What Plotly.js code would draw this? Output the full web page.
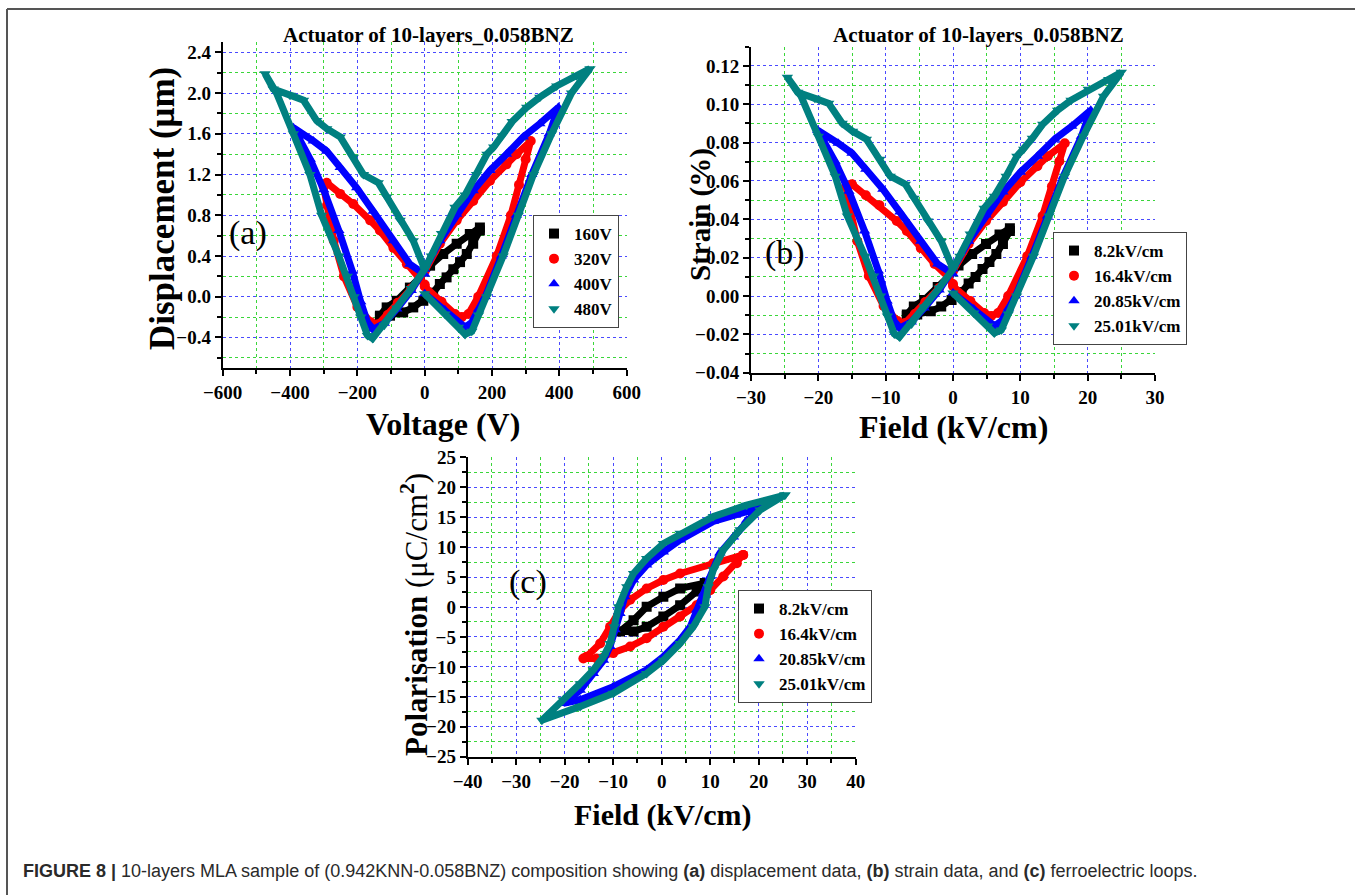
<!DOCTYPE html>
<html>
<head>
<meta charset="utf-8">
<script src="https://cdn.plot.ly/plotly-3.0.1.min.js"></script>
<style>
  html, body { margin: 0; padding: 0; background: #fff; }
  #chart { width: 1355px; height: 895px; }
</style>
</head>
<body>
<div id="chart"></div>
<script>
// ---------- Panel (a): displacement vs voltage ----------
const seriesNamesA = ["160V", "320V", "400V", "480V"];
const voltA160 = [-133,-103,-64,-34,-4,25,45,65,85,105,125,144,164,164,134,95,55,16,-14,-44,-83,-113,-133];
const dispA160 = [-0.20,-0.186,-0.154,-0.105,-0.04,0.04,0.125,0.19,0.27,0.34,0.42,0.52,0.65,0.68,0.616,0.52,0.42,0.305,0.19,0.09,-0.04,-0.105,-0.186];
const voltA320 = [0,50,90,110,130,159,214,256,280,300,315,273,243,194,144,95,45,0,-40,-80,-110,-138,-160,-200,-240,-270,-290,-300,-291,-251,-212,-162,-133,-93,-53,-14,0];
const dispA320 = [0.1,-0.05,-0.17,-0.2,-0.17,0,0.4,0.8,1.1,1.35,1.53,1.40,1.30,1.14,0.94,0.75,0.52,0.25,0.08,-0.06,-0.18,-0.27,-0.25,-0.1,0.2,0.55,0.9,1.08,1.12,1.01,0.91,0.75,0.65,0.48,0.32,0.19,0.12];
const voltA400 = [0,60,100,120,140,160,180,228,272,318,370,397,342,293,243,194,144,95,45,0,-40,-83,-120,-153,-170,-190,-215,-255,-300,-340,-390,-331,-291,-251,-202,-153,-93,-44,0];
const dispA400 = [0.03,-0.13,-0.25,-0.30,-0.25,-0.12,0.0,0.4,0.8,1.2,1.6,1.86,1.70,1.57,1.40,1.24,1.04,0.81,0.55,0.27,0.06,-0.12,-0.26,-0.32,-0.25,-0.05,0.25,0.65,1.05,1.35,1.66,1.53,1.43,1.27,1.07,0.84,0.55,0.32,0.22];
const voltA480 = [0,60,100,120,140,160,184,233,278,323,377,436,491,451,392,342,303,260,230,205,185,154,120,90,50,20,0,-40,-83,-120,-155,-170,-190,-210,-230,-255,-306,-341,-390,-440,-474,-450,-400,-360,-321,-291,-251,-212,-182,-138,-113,-73,-34,0];
const dispA480 = [0.03,-0.17,-0.3,-0.37,-0.34,-0.18,0.0,0.4,0.8,1.2,1.6,2.0,2.24,2.17,2.07,1.96,1.86,1.72,1.58,1.47,1.40,1.2,1.0,0.88,0.62,0.40,0.27,0.08,-0.11,-0.28,-0.41,-0.38,-0.2,0.0,0.2,0.4,0.8,1.2,1.6,2.0,2.19,2.04,1.98,1.93,1.73,1.65,1.57,1.37,1.2,1.12,0.98,0.75,0.55,0.27];

// ---------- Panel (b): strain vs field ----------
const seriesNamesB = ["8.2kV/cm", "16.4kV/cm", "20.85kV/cm", "25.01kV/cm"];
const fieldB1 = [-6.86,-5.31,-3.30,-1.75,-0.21,1.29,2.32,3.35,4.38,5.41,6.44,7.42,8.45,8.45,6.91,4.90,2.84,0.82,-0.72,-2.27,-4.28,-5.82,-6.86];
const strainB1 = [-0.0104,-0.0097,-0.0080,-0.0055,-0.0021,0.0021,0.0065,0.0099,0.0141,0.0177,0.0219,0.0271,0.0339,0.0354,0.0321,0.0271,0.0219,0.0159,0.0099,0.0047,-0.0021,-0.0055,-0.0097];
const fieldB2 = [0,2.58,4.64,5.67,6.70,8.20,11.03,13.3,14.7,15.8,16.6,14.07,12.53,10.0,7.42,4.90,2.32,0,-2.06,-4.12,-5.67,-7.11,-8.25,-10.31,-12.5,-14.2,-15.4,-15.9,-15.0,-12.94,-10.93,-8.35,-6.86,-4.79,-2.73,-0.72,0];
const strainB2 = [0.0052,-0.0026,-0.0089,-0.0104,-0.0089,0,0.0208,0.0417,0.0573,0.0703,0.0797,0.0729,0.0677,0.0594,0.0490,0.0391,0.0271,0.0130,0.0042,-0.0031,-0.0094,-0.0141,-0.0130,-0.0052,0.0104,0.0286,0.0469,0.0573,0.0583,0.0526,0.0474,0.0391,0.0339,0.0250,0.0167,0.0099,0.0063];
const fieldB3 = [0,3.09,5.15,6.19,7.22,8.25,9.28,11.75,14.02,16.39,19.07,20.46,17.63,15.10,12.53,10.0,7.42,4.90,2.32,0,-2.06,-4.28,-6.19,-7.89,-8.76,-9.79,-11.08,-13.14,-15.46,-17.53,-20.10,-17.06,-15.0,-12.94,-10.41,-7.89,-4.79,-2.27,0];
const strainB3 = [0.0016,-0.0068,-0.0130,-0.0156,-0.0130,-0.0063,0,0.0208,0.0417,0.0625,0.0833,0.0969,0.0885,0.0818,0.0729,0.0646,0.0542,0.0422,0.0286,0.0141,0.0031,-0.0063,-0.0135,-0.0167,-0.0130,-0.0026,0.0130,0.0339,0.0547,0.0703,0.0865,0.0797,0.0745,0.0661,0.0557,0.0438,0.0286,0.0167,0.0115];
const fieldB4 = [0,3.08,5.13,6.15,7.18,8.21,9.44,11.95,14.26,16.56,19.33,22.36,25.0,23.13,20.10,17.54,15.54,13.33,11.79,10.51,9.49,7.90,6.15,4.62,2.56,1.03,0,-2.05,-4.26,-6.15,-7.95,-8.72,-9.74,-10.77,-11.79,-13.08,-15.69,-17.49,-20.0,-22.56,-24.6,-23.08,-20.51,-18.46,-16.46,-14.92,-12.87,-10.87,-9.33,-7.08,-5.79,-3.74,-1.74,0];
const strainB4 = [0.0016,-0.0089,-0.0156,-0.0193,-0.0177,-0.0094,0,0.0208,0.0417,0.0625,0.0833,0.1042,0.1167,0.1130,0.1078,0.1021,0.0969,0.0896,0.0823,0.0766,0.0729,0.0625,0.0521,0.0458,0.0323,0.0208,0.0141,0.0042,-0.0057,-0.0146,-0.0214,-0.0198,-0.0104,0,0.0104,0.0208,0.0417,0.0625,0.0833,0.1042,0.1141,0.1063,0.1031,0.1005,0.0901,0.0859,0.0818,0.0714,0.0625,0.0583,0.0510,0.0391,0.0286,0.0141];

// ---------- Panel (c): polarisation vs field ----------
const fieldC1 = [8.9,3.8,0.34,-3.1,-5.8,-8.6,-5.8,-3.1,0.34,3.8,7.2,8.9];
const polC1 = [4.0,3.1,1.7,0.05,-2.2,-4.1,-4.1,-3.3,-1.6,0.3,2.6,4.0];
const fieldC2 = [16.8,10.65,3.8,0.34,-3.1,-6.5,-8.6,-10.65,-12.7,-15.5,-16.15,-13.4,-10.0,-6.5,-3.1,0.34,3.8,7.2,10.0,12.7,15.5,16.8];
const polC2 = [8.7,7.3,5.6,4.5,3.1,1.2,-0.5,-3.3,-6.1,-8.3,-8.6,-8.6,-7.7,-6.6,-5.2,-3.3,-1.6,0.3,2.8,5.1,7.3,8.7];
const fieldC3 = [20.3,17.5,10.65,3.8,0.34,-3.1,-5.8,-7.6,-8.6,-9.6,-10.65,-12.0,-14.1,-16.8,-20.3,-16.8,-10.0,-3.1,0.34,3.8,5.9,7.2,8.6,10.0,12.0,14.8,17.5,20.3];
const polC3 = [16.8,15.9,14.3,11.2,9.2,7.0,4.5,1.7,-1.1,-3.8,-6.6,-8.9,-11.1,-13.9,-16.1,-15.5,-13.3,-10.5,-8.3,-5.5,-3.3,-0.5,2.3,5.1,9.0,11.7,14.5,16.8];
const fieldC4 = [25.4,17.5,10.65,3.8,0.34,-3.1,-5.8,-7.2,-8.9,-9.8,-10.65,-12.0,-14.1,-16.8,-20.3,-24.7,-16.8,-10.0,-3.1,0.34,3.8,6.5,8.9,9.6,10.65,12.7,16.15,20.3,25.4];
const polC4 = [18.7,17.0,15.1,12.3,10.6,8.1,5.6,3.4,0.05,-3.3,-6.1,-8.3,-10.5,-12.8,-15.5,-18.9,-16.6,-14.4,-11.1,-8.9,-6.1,-3.3,0.05,3.4,6.2,9.5,12.9,16.2,18.7];

// ---------- styles ----------
const colors = ["#000000", "#ff0000", "#0000ff", "#008080"];
const symbols = ["square", "circle", "triangle-up", "triangle-down"];
const serif = "Liberation Serif, Times New Roman, serif";

const traces = [];
function addPanel(xs, ys, names, xa, ya, legendId) {
  for (let i = 0; i < xs.length; i++) {
    traces.push({
      type: "scatter", mode: "lines+markers", x: xs[i], y: ys[i],
      xaxis: xa, yaxis: ya, showlegend: false, hoverinfo: "skip",
      line: { color: colors[i], width: 7 },
      marker: { color: colors[i], symbol: symbols[i], size: 10 }
    });
  }
  for (let i = 0; i < names.length; i++) {
    traces.push({
      type: "scatter", mode: "markers", x: [null], y: [null], name: names[i],
      xaxis: xa, yaxis: ya, legend: legendId, showlegend: true,
      marker: { color: colors[i], symbol: symbols[i], size: 10 }
    });
  }
}
addPanel([voltA160, voltA320, voltA400, voltA480], [dispA160, dispA320, dispA400, dispA480], seriesNamesA, "x", "y", "legend");
addPanel([fieldB1, fieldB2, fieldB3, fieldB4], [strainB1, strainB2, strainB3, strainB4], seriesNamesB, "x2", "y2", "legend2");
addPanel([fieldC1, fieldC2, fieldC3, fieldC4], [polC1, polC2, polC3, polC4], seriesNamesB, "x3", "y3", "legend3");

const W = 1355, H = 895;
const px = v => v / W;
const py = v => 1 - v / H;

function axis(domain, range, dtick, minorDtick, fmt, anchor) {
  return {
    domain: domain, range: range, anchor: anchor, autorange: false,
    dtick: dtick, tick0: 0, tickformat: fmt,
    ticks: "outside", ticklen: 6, tickwidth: 2, tickcolor: "#000",
    showline: true, linewidth: 2, linecolor: "#000", mirror: false,
    zeroline: false,
    showgrid: true, gridcolor: "#4a4aff", griddash: "dot", gridwidth: 1,
    minor: { dtick: minorDtick, ticks: "outside", ticklen: 4, tickwidth: 2, tickcolor: "#000",
             showgrid: true, gridcolor: "#3ad63a", griddash: "dot", gridwidth: 1 },
    tickfont: { family: serif, size: 19, color: "#000", weight: "bold" },
    fixedrange: true
  };
}

const legendBase = {
  bgcolor: "#ffffff", bordercolor: "#444", borderwidth: 1,
  font: { family: serif, size: 17, color: "#000", weight: "bold" },
  xanchor: "left", yanchor: "top", tracegroupgap: 0, itemwidth: 30
};

function ann(text, x, y, size, opts) {
  return Object.assign({
    text: text, x: x, y: y, xref: "paper", yref: "paper", showarrow: false,
    xanchor: "center", yanchor: "middle",
    font: { family: serif, size: size, color: "#000" }
  }, opts || {});
}

const layout = {
  width: W, height: H,
  margin: { l: 0, r: 0, t: 0, b: 0 },
  paper_bgcolor: "#fff", plot_bgcolor: "rgba(0,0,0,0)",
  showlegend: true,
  xaxis: axis([px(222.7), px(626.7)], [-600, 600], 200, 100, "d", "y"),
  yaxis: axis([py(368), py(42.2)], [-0.7, 2.5], 0.4, 0.2, ".1f", "x"),
  xaxis2: axis([px(751), px(1155)], [-30, 30], 10, 5, "d", "y2"),
  yaxis2: axis([py(372.7), py(46.8)], [-0.04, 0.13], 0.02, 0.01, ".2f", "x2"),
  xaxis3: axis([px(467.7), px(855.7)], [-40, 40], 10, 5, "d", "y3"),
  yaxis3: axis([py(756.7), py(457.3)], [-25, 25], 5, 2.5, "d", "x3"),
  legend: Object.assign({}, legendBase, { x: px(533), y: py(215) }),
  legend2: Object.assign({}, legendBase, { x: px(1053), y: py(232) }),
  legend3: Object.assign({}, legendBase, { x: px(738), y: py(590) }),
  annotations: [
    ann("<b>Actuator of 10-layers_0.058BNZ</b>", px(428), py(35), 21),
    ann("<b>Actuator of 10-layers_0.058BNZ</b>", px(978), py(35), 21),
    ann("<b>Displacement (μm)</b>", px(162), py(209), 35, { textangle: -90 }),
    ann("<b>Voltage (V)</b>", px(443), py(404), 32, { yanchor: "top" }),
    ann("<b>Strain (%)</b>", px(700), py(215), 29, { textangle: -90 }),
    ann("<b>Field (kV/cm)</b>", px(953), py(407), 32, { yanchor: "top" }),
    ann("<b>Polarisation</b> (μC/cm<sup><b>2</b></sup>)", px(414), py(615), 31, { textangle: -90 }),
    ann("<b>Field (kV/cm)</b>", px(662), py(815), 30),
    ann("(a)", px(248), py(233), 34),
    ann("(b)", px(785), py(253), 34),
    ann("(c)", px(528), py(582), 34),
    ann("<b>FIGURE 8 |</b> 10-layers MLA sample of (0.942KNN-0.058BNZ) composition showing <b>(a)</b> displacement data, <b>(b)</b> strain data, and <b>(c)</b> ferroelectric loops.",
        px(21), py(871), 18, { xanchor: "left", font: { family: "Liberation Sans, Arial, sans-serif", size: 18, color: "#2a2a2a" } })
  ],
  shapes: [
    { type: "line", xref: "paper", yref: "paper", x0: px(7), x1: 1, y0: py(9), y1: py(9), line: { color: "#555", width: 2 } },
    { type: "line", xref: "paper", yref: "paper", x0: px(7), x1: px(7), y0: 0, y1: py(9), line: { color: "#555", width: 2 } }
  ]
};

Plotly.newPlot("chart", traces, layout, { staticPlot: true, displayModeBar: false });
</script>
</body>
</html>
